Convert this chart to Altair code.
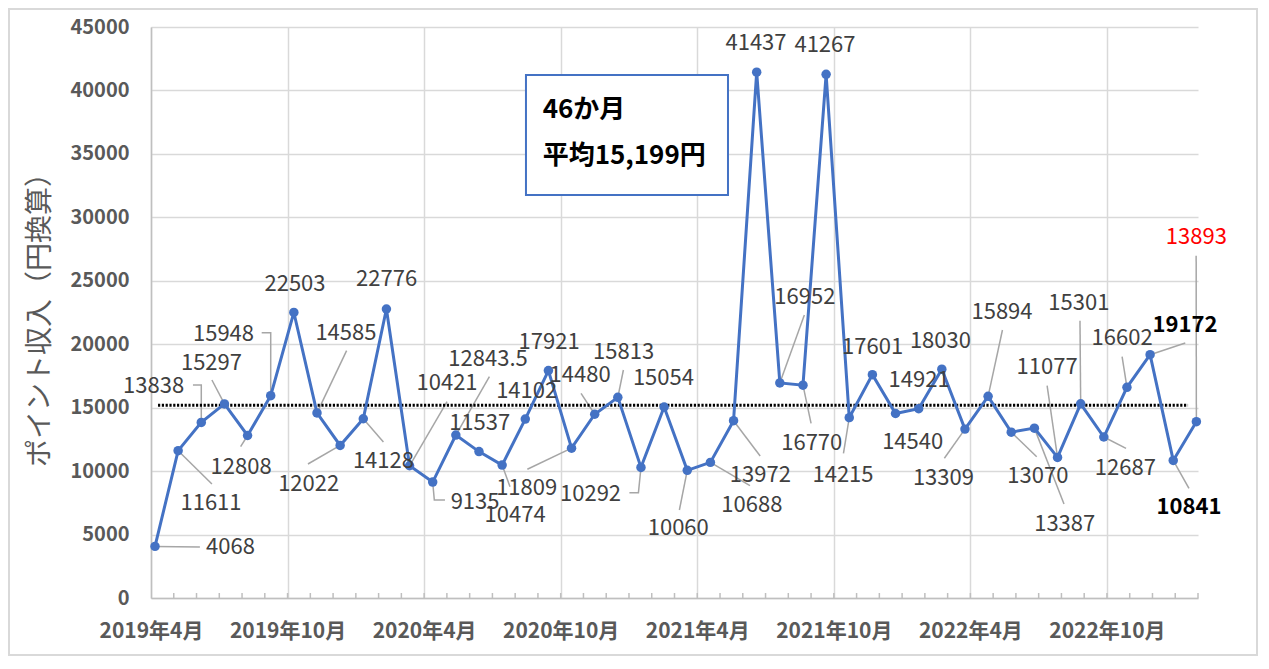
import altair as alt
import pandas as pd

# ---------------- data ----------------
months = ["2019-04", "2019-05", "2019-06", "2019-07", "2019-08", "2019-09", "2019-10", "2019-11", "2019-12",
          "2020-01", "2020-02", "2020-03", "2020-04", "2020-05", "2020-06", "2020-07", "2020-08", "2020-09",
          "2020-10", "2020-11", "2020-12", "2021-01", "2021-02", "2021-03", "2021-04", "2021-05", "2021-06",
          "2021-07", "2021-08", "2021-09", "2021-10", "2021-11", "2021-12", "2022-01", "2022-02", "2022-03",
          "2022-04", "2022-05", "2022-06", "2022-07", "2022-08", "2022-09", "2022-10", "2022-11", "2022-12",
          "2023-01"]
values = [4068, 11611, 13838, 15297, 12808, 15948, 22503, 14585, 12022,
          14128, 22776, 10421, 9135, 12843.5, 11537, 10474, 14102, 17921,
          11809, 14480, 15813, 10292, 15054, 10060, 10688, 13972, 41437,
          16952, 16770, 41267, 14215, 17601, 14540, 14921, 18030, 13309,
          15894, 13070, 13387, 11077, 15301, 12687, 16602, 19172, 10841,
          13893]
x_tick_labels = ["2019年4月", "2019年10月", "2020年4月", "2020年10月",
                 "2021年4月", "2021年10月", "2022年4月", "2022年10月"]
average = 15199
box_lines = ["46か月", "平均15,199円"]
y_title = "ポイント収入（円換算）"

# label placement (data units: month index, value)
label_i = [3.26, 2.42, -0.06, 2.44, 3.72, 2.96, 6.05, 8.25, 6.64, 9.87,
           10.01, 12.62, 13.83, 14.39, 14.03, 15.56, 16.06, 17.03, 16.06, 18.37,
           20.25, 18.82, 21.97, 22.61, 25.79, 26.16, 25.97, 28.08, 28.38, 28.95,
           29.73, 31.01, 32.74, 33.02, 33.94, 34.07, 36.60, 38.15, 39.31, 38.55,
           39.92, 41.93, 41.79, 44.51, 44.68, 45.00]
label_v = [4043, 7487, 16731, 18544, 10324, 20782, 24770, 20900, 9000, 10797,
           25101, 16920, 7566, 18835, 13807, 6541, 16314, 20152, 8645, 17598,
           19364, 8173, 17315, 5493, 7329, 9694, 43716, 23745, 12239, 43581,
           9694, 19805, 12278, 17141, 20254, 9433, 22539, 9615, 5808, 18189,
           23225, 10245, 20490, 21515, 7195, 28474]
# leader lines: start near label, optional elbow, then to the point
leaders = {
    0: [(1.94, 4019)], 1: [(2.46, 8984)], 2: [(1.64, 16786), (2.0, 16786)],
    3: [(2.46, 17180)], 4: [(3.70, 11924)], 5: [(4.61, 20908), (5.0, 20908)],
    7: [(8.28, 19490)], 8: [(6.61, 10560)], 9: [(9.87, 12294)],
    11: [(12.62, 15470)], 12: [(12.53, 7723), (12.07, 7723)], 13: [(14.45, 17441)],
    15: [(15.34, 8771)], 18: [(16.09, 10143)], 19: [(18.41, 16132)],
    20: [(20.24, 17968)], 21: [(20.50, 8299), (20.89, 8299)], 23: [(22.66, 6935)],
    24: [(25.71, 8850)], 25: [(26.15, 11191)], 27: [(28.06, 22303)],
    28: [(28.35, 13768)], 30: [(29.75, 11404)], 35: [(34.11, 11010)],
    36: [(36.62, 21121)], 37: [(38.10, 11136)], 38: [(39.28, 7408)],
    39: [(38.55, 16731)], 40: [(39.97, 21854)], 41: [(41.96, 11798)],
    42: [(41.79, 19017)], 43: [(44.52, 20096)], 44: [(44.68, 8645)],
    45: [(44.99, 26977)],
}
black_bold_idx = [43, 44]
red_idx = [45]
avg_span = [0.13, 44.64]
box_span_i = [16.03, 24.76]
box_span_v = [41217, 31760]
box_text_i = 16.75
box_text_v = [38459, 34795]

# ---------------- layout ----------------
W, H = 1047, 571
FONT = "Noto Sans CJK JP"
BLUE = "#4472C4"
GRID = "#D9D9D9"
AXC = "#BFBFBF"

xs = alt.Scale(domain=[-0.173, 45.07], nice=False, zero=False)
ys = alt.Scale(domain=[0, 45000], nice=False, zero=False)
yaxis = alt.Axis(values=list(range(0, 45001, 5000)), format="d", grid=True, gridColor=GRID, gridWidth=1.5,
                 ticks=False, domainColor=AXC, domainWidth=1.5, labelFont=FONT, labelFontSize=20,
                 labelFontWeight="bold", labelColor="#595959", labelPadding=22,
                 title=y_title, titleFont=FONT, titleFontSize=28, titleFontWeight="normal",
                 titleColor="#595959", titleX=-111, titleY=H / 2, titleAngle=270,
                 titleAlign="center", titleBaseline="middle")

def X(f):
    return alt.X(f, type="quantitative", scale=xs, axis=None)

def Y(f):
    return alt.Y(f, type="quantitative", scale=ys, axis=yaxis)

df = pd.DataFrame({"i": list(range(len(values))), "v": values, "month": months,
                   "lab_i": label_i, "lab_v": label_v})
df["txt"] = [("%g" % v) for v in values]
df["kind"] = ["r" if k in red_idx else ("b" if k in black_bold_idx else "n") for k in range(len(values))]

# axis layer (month axis)
labels_js = "[" + ",".join("'%s'" % s for s in x_tick_labels) + "]"
ticks_df = pd.DataFrame({"m": list(range(1, 47))})
axis_layer = alt.Chart(ticks_df).mark_rule(color=AXC, strokeWidth=1.5).encode(
    x=alt.X("m:Q", scale=alt.Scale(domain=[0, 46], nice=False, zero=False),
            axis=alt.Axis(values=list(range(0, 43, 6)), labelExpr=labels_js + "[round(datum.value / 6)]",
                          grid=True, gridColor=GRID, gridWidth=1.5, ticks=False,
                          domainColor=AXC, domainWidth=1.5, labelFont=FONT, labelFontSize=21,
                          labelFontWeight="bold", labelColor="#595959", labelPadding=22,
                          labelOverlap=False, labelFlush=False, title=None)),
    y=alt.value(H), y2=alt.value(H - 5),
)

# leaders
rows = []
for k, pts in leaders.items():
    seq = list(pts) + [(k, values[k])]
    for o, (a, b) in enumerate(seq):
        rows.append({"id": k, "ord": o, "x": a, "y": b})
lead_df = pd.DataFrame(rows)
leader_layer = alt.Chart(lead_df).mark_line(color="#A6A6A6", strokeWidth=1.5).encode(
    x=X("x"), y=Y("y"), detail="id:N", order="ord:Q")

avg_df = pd.DataFrame({"x0": [avg_span[0]], "x1": [avg_span[1]], "v": [average]})
avg_layer = alt.Chart(avg_df).mark_rule(color="black", strokeWidth=3, strokeDash=[2.2, 1.6]).encode(
    x=X("x0"), x2="x1", y=Y("v"))

line_layer = alt.Chart(df).mark_line(color=BLUE, strokeWidth=3).encode(x=X("i"), y=Y("v"))
point_layer = alt.Chart(df).mark_circle(color=BLUE, size=90, opacity=1).encode(x=X("i"), y=Y("v"))

box_df = pd.DataFrame({"x0": [box_span_i[0]], "x1": [box_span_i[1]],
                       "y0": [box_span_v[0]], "y1": [box_span_v[1]]})
box_layer = alt.Chart(box_df).mark_rect(fill="white", stroke=BLUE, strokeWidth=2).encode(
    x=X("x0"), x2="x1", y=Y("y0"), y2="y1")
box_txt_df = pd.DataFrame({"x": [box_text_i] * 2, "y": box_text_v, "t": box_lines})
box_text = alt.Chart(box_txt_df).mark_text(font=FONT, fontSize=26, fontWeight="bold", color="black",
                                           align="left", baseline="middle").encode(
    x=X("x"), y=Y("y"), text="t:N")

lab_n = alt.Chart(df).transform_filter("datum.kind == 'n'").mark_text(
    font=FONT, fontSize=22, color="#404040", align="center", baseline="middle").encode(
    x=X("lab_i"), y=Y("lab_v"), text="txt:N")
lab_b = alt.Chart(df).transform_filter("datum.kind == 'b'").mark_text(
    font=FONT, fontSize=22, fontWeight="bold", color="black", align="center", baseline="middle").encode(
    x=X("lab_i"), y=Y("lab_v"), text="txt:N")
lab_r = alt.Chart(df).transform_filter("datum.kind == 'r'").mark_text(
    font=FONT, fontSize=22, color="#FF0000", align="center", baseline="middle").encode(
    x=X("lab_i"), y=Y("lab_v"), text="txt:N")

frame = alt.Chart(pd.DataFrame({"a": [0]})).mark_rect(filled=False, stroke=GRID, strokeWidth=2).encode(
    x=alt.value(-142), x2=alt.value(W + 59), y=alt.value(-18), y2=alt.value(H + 57))

chart = alt.layer(
    axis_layer, frame, leader_layer, avg_layer, line_layer, point_layer, box_layer, box_text,
    lab_n, lab_b, lab_r,
).resolve_scale(x="independent").properties(
    width=W, height=H,
    padding={"left": 143, "top": 19, "right": 60, "bottom": 58},
    autosize=alt.AutoSizeParams(type="none"),
).configure_view(stroke=None)

chart.save("out.html", embed_options={"renderer": "svg", "actions": False})
